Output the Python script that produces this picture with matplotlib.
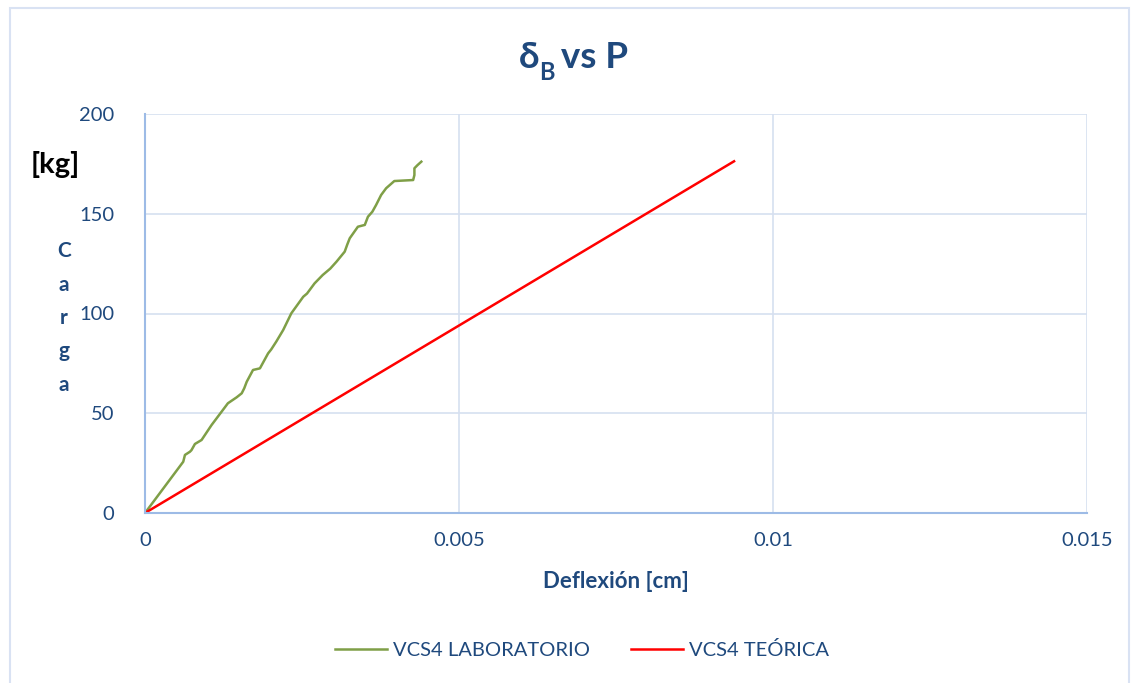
import matplotlib.pyplot as plt
from matplotlib.patches import Rectangle
from matplotlib.lines import Line2D

# deflexion [cm] y carga [kg]
lab_x = [0, 0.000609, 0.000636, 0.000715, 0.000740, 0.000795, 0.000901, 0.00106, 0.00122,
         0.00132, 0.00146, 0.00154, 0.00158, 0.00162, 0.00172, 0.00183, 0.00196, 0.00201,
         0.00209, 0.00220, 0.00233, 0.00252, 0.00258, 0.00270, 0.00283, 0.00295, 0.00305,
         0.00318, 0.00322, 0.00326, 0.00339, 0.00350, 0.00355, 0.00362, 0.00368, 0.00376,
         0.00384, 0.00397, 0.00427, 0.00429, 0.00429, 0.00434, 0.00440]
lab_y = [0, 25.7, 29.1, 30.7, 31.5, 34.6, 36.6, 44.1, 50.8,
         55.0, 58.0, 60.0, 62.5, 65.8, 71.7, 72.5, 80.0, 82.0,
         85.9, 91.7, 100.1, 108.4, 110.0, 115.1, 119.3, 122.5, 126.0,
         131.0, 134.5, 137.7, 143.5, 144.4, 148.5, 151.0, 154.4, 159.4,
         162.8, 166.4, 166.9, 169.4, 172.8, 174.4, 176.1]
teo_x = [0, 0.00938]
teo_y = [0, 176.3]

xticks = [0, 0.005, 0.01, 0.015]
xtick_labels = ['0', '0.005', '0.01', '0.015']
yticks = [0, 50, 100, 150, 200]

plt.rcParams['font.family'] = ['Lato', 'DejaVu Sans']
txt_color = '#1f497d'
W, H = 1136, 683

fig = plt.figure(figsize=(W / 100, H / 100), dpi=100)
ax = fig.add_axes([145 / W, 1 - 513 / H, (1087 - 145) / W, (513 - 114) / H])

ax.plot(lab_x, lab_y, color='#7f9f47', lw=1.8, label='VCS4 LABORATORIO')
ax.plot(teo_x, teo_y, color='#ff0000', lw=1.8, label='VCS4 TEÓRICA')

ax.set_xlim(0, 0.015)
ax.set_ylim(0, 200)
ax.set_xticks(xticks)
ax.set_xticklabels(xtick_labels)
ax.set_yticks(yticks)
ax.grid(True, color='#d6e0f0', lw=1.2)
ax.set_axisbelow(True)
for s in ['top', 'right']:
    ax.spines[s].set_visible(False)
for s in ['left', 'bottom']:
    ax.spines[s].set_color('#9dbbe6')
    ax.spines[s].set_linewidth(1.5)
ax.tick_params(length=0, labelsize=14.5, colors=txt_color, pad=14)
ax.tick_params(axis='y', pad=22)

# titulo
fig.text(539 / W, 1 - 58 / H, 'δ', fontsize=26.5, fontweight='bold', color=txt_color,
         ha='right', va='center')
fig.text(539 / W, 1 - 72 / H, 'B', fontsize=17, fontweight='bold', color=txt_color,
         ha='left', va='center')
fig.text(552 / W, 1 - 58 / H, ' vs P', fontsize=26.5, fontweight='bold', color=txt_color,
         ha='left', va='center')

fig.text(616 / W, 1 - 581 / H, 'Deflexión [cm]', fontsize=16, fontweight='bold',
         color=txt_color, ha='center', va='center')
for i, c in enumerate('Carga'):
    fig.text(64 / W, 1 - (251 + i * 33.5) / H, c, fontsize=15, fontweight='bold',
             color=txt_color, ha='center', va='center')
fig.text(55 / W, 1 - 165 / H, '[kg]', fontsize=21, fontweight='bold', color='black',
         ha='center', va='center')

handles = [Line2D([], [], color='#7f9f47', lw=1.8), Line2D([], [], color='#ff0000', lw=1.8)]
fig.legend(handles, ['VCS4 LABORATORIO', 'VCS4 TEÓRICA'], loc='center',
           bbox_to_anchor=(582 / W, 1 - 650 / H), ncol=2, frameon=False, fontsize=14.5,
           labelcolor=txt_color, handlelength=2.6, handletextpad=0.3, columnspacing=2.0)

fig.patches.append(Rectangle((9.5 / W, -0.05), (1129 - 9.5) / W, 1.05 - 8.5 / H,
                             transform=fig.transFigure, fill=False, ec='#d9e2f3', lw=1.5))

fig.savefig('out.png', dpi=100)
